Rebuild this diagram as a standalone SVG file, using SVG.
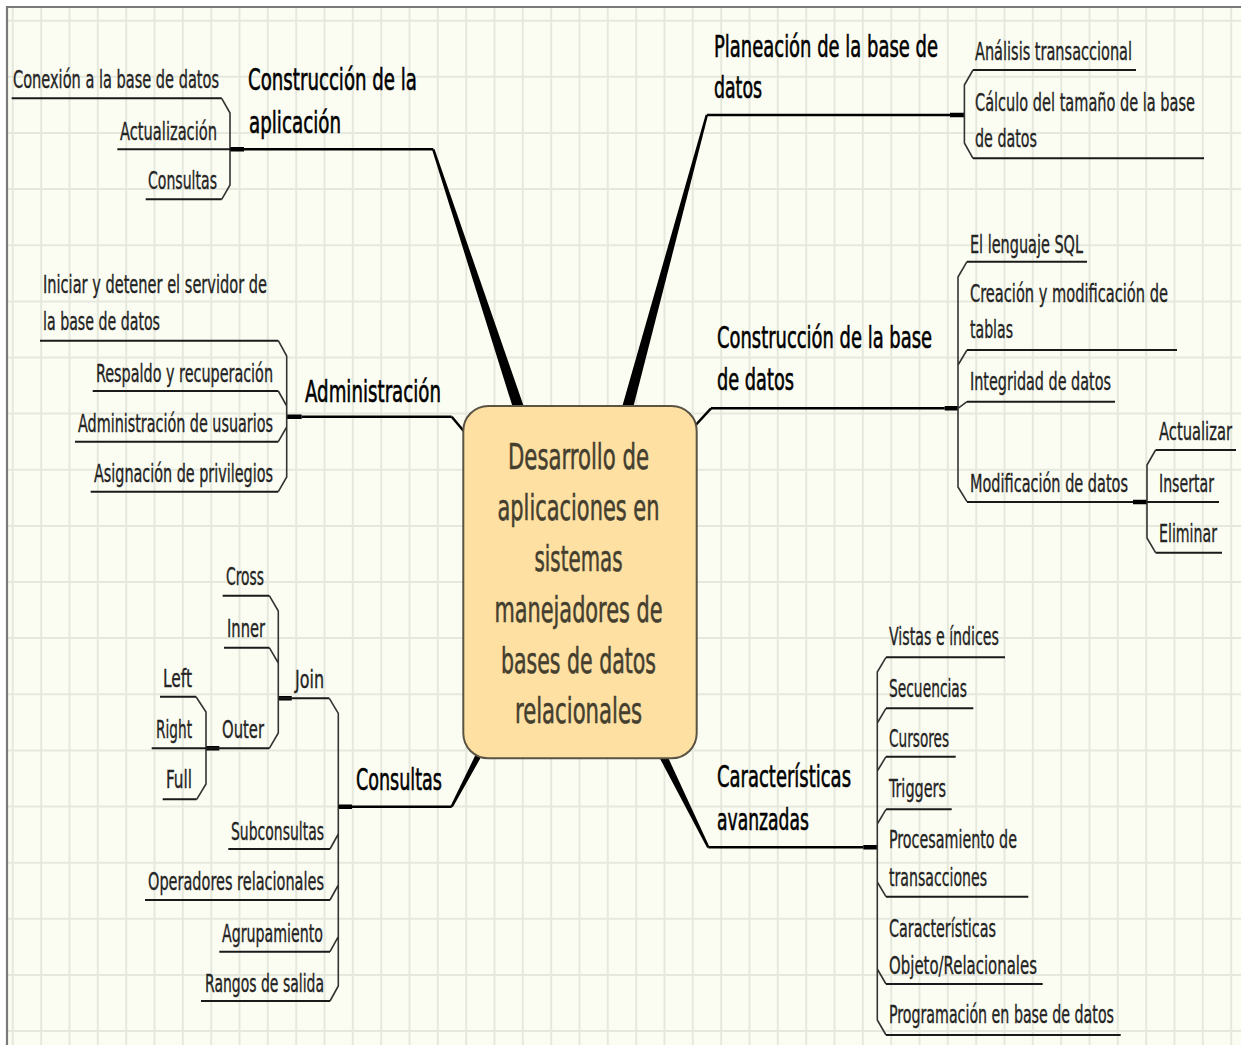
<svg xmlns="http://www.w3.org/2000/svg" width="1241" height="1045" viewBox="0 0 1241 1045">
<style>
text{font-family:"DejaVu Sans Condensed","DejaVu Sans","Liberation Sans",sans-serif;font-stretch:condensed}
.s{font-size:24px;fill:#242424;stroke:#242424;stroke-width:0.35}
.m{font-size:31px;fill:#000;stroke:#000;stroke-width:0.6}
.c{font-size:36px;fill:#443e2f;stroke:#443e2f;stroke-width:0.55;text-anchor:middle}
.ul{stroke:#1a1a1a;stroke-width:2;fill:none}
.mul{stroke:#000;stroke-width:2.5;fill:none}
.stub{stroke:#000;stroke-width:4.5;fill:none}
.br{stroke:#333;stroke-width:1.6;fill:none;stroke-linejoin:round}
.grid{stroke:#e5e9dd;stroke-width:2;fill:none}
.taper{fill:#000}
</style>
<rect x="0" y="0" width="1241" height="1045" fill="#ffffff"/>
<rect x="7" y="7" width="1234" height="1038" fill="#fcfdf2"/>
<path class="grid" d="M12.8 7V1045M41.2 7V1045M69.5 7V1045M97.8 7V1045M126.2 7V1045M154.5 7V1045M182.8 7V1045M211.2 7V1045M239.5 7V1045M267.8 7V1045M296.2 7V1045M324.5 7V1045M352.8 7V1045M381.2 7V1045M409.5 7V1045M437.8 7V1045M466.2 7V1045M494.5 7V1045M522.8 7V1045M551.2 7V1045M579.5 7V1045M607.8 7V1045M636.2 7V1045M664.5 7V1045M692.8 7V1045M721.2 7V1045M749.5 7V1045M777.8 7V1045M806.2 7V1045M834.5 7V1045M862.8 7V1045M891.2 7V1045M919.5 7V1045M947.8 7V1045M976.2 7V1045M1004.5 7V1045M1032.8 7V1045M1061.2 7V1045M1089.5 7V1045M1117.8 7V1045M1146.2 7V1045M1174.5 7V1045M1202.8 7V1045M1231.2 7V1045M7 20.7H1241M7 76.8H1241M7 133H1241M7 189.1H1241M7 245.2H1241M7 301.4H1241M7 357.5H1241M7 413.6H1241M7 469.7H1241M7 525.9H1241M7 582H1241M7 638.1H1241M7 694.3H1241M7 750.4H1241M7 806.5H1241M7 862.7H1241M7 918.8H1241M7 974.9H1241M7 1031H1241"/>
<path d="M7 1045V7H1241" stroke="#7a7a7a" stroke-width="2.2" fill="none"/>

<g id="connectors">
  <polygon class="taper" points="432.1,149.7 434.5,148.9 525.8,412.3 515.4,415.7"/>
  <polygon class="taper" points="705.6,114.7 708.0,115.3 631.1,415.4 620.5,412.6"/>
  <polygon class="taper" points="450.6,806.1 452.8,807.3 482.5,754.4 477.1,751.6"/>
  <polygon class="taper" points="707.2,847.9 709.4,846.7 665.9,752.8 658.8,756.4"/>
  <path class="mul" d="M451.7 416.7L467 435"/>
  <path class="mul" d="M711 408.3L693 428"/>
  <path class="stub" d="M230 149.3H244M950 115H964.4M286.7 416.7H301.7M338.3 806.7H352M278.3 698.3H291.7M206 748.3H219.3M944.7 408.3H958M1133 502H1147M863.3 847.3H877.3"/>
  <path class="br" d="M221.7 98.3L230 113V185L221.7 199.3"/>
  <path class="br" d="M973 70L964.4 85V143L973 158.3"/>
  <path class="br" d="M278.3 340.7L286.7 356V477L278.3 491.7M278.3 391L286.7 406M278.3 441.7L286.7 427"/>
  <path class="br" d="M329.3 698.3L338.3 713.3V986L330 1001M330 849L338.3 834M330 900L338.3 885M330 951.7L338.3 936.7"/>
  <path class="br" d="M269.3 595.7L278.3 611V733L269.3 748.3M269.3 647.7L278.3 663"/>
  <path class="br" d="M196 696.7L206 712V784L196.7 799.3"/>
  <path class="br" d="M967 261.7L958 277V487L967 501.7M967 350L958 365M967 401.7L958 408.3"/>
  <path class="br" d="M1155.6 450L1147 465V538L1155.6 552.7"/>
  <path class="br" d="M886 657.3L877.3 672V1020L886 1035M886 708.3L877.3 723M886 756.7L877.3 771M886 809.3L877.3 824M886 896.7L877.3 882M886 984L877.3 969"/>
</g>

<g id="center">
  <rect x="463.3" y="406" width="233.4" height="352.3" rx="25" fill="#fde0a2" stroke="#5b5444" stroke-width="2"/>
  <text class="c" x="578.5" y="469" textLength="141" lengthAdjust="spacingAndGlyphs">Desarrollo de</text>
  <text class="c" x="578.5" y="520" textLength="162" lengthAdjust="spacingAndGlyphs">aplicaciones en</text>
  <text class="c" x="578.5" y="571" textLength="88" lengthAdjust="spacingAndGlyphs">sistemas</text>
  <text class="c" x="578.5" y="622" textLength="168" lengthAdjust="spacingAndGlyphs">manejadores de</text>
  <text class="c" x="578.5" y="673" textLength="155" lengthAdjust="spacingAndGlyphs">bases de datos</text>
  <text class="c" x="578.5" y="723" textLength="127" lengthAdjust="spacingAndGlyphs">relacionales</text>
</g>

<g id="construccion-aplicacion">
  <path class="mul" d="M230 149.3H433.3"/>
  <text class="m" x="248" y="90" textLength="169" lengthAdjust="spacingAndGlyphs">Construcción de la</text>
  <text class="m" x="249" y="133" textLength="92" lengthAdjust="spacingAndGlyphs">aplicación</text>
</g>
<g id="conexion">
  <path class="ul" d="M11.7 98.3H221.7"/>
  <text class="s" x="13" y="88" textLength="206" lengthAdjust="spacingAndGlyphs">Conexión a la base de datos</text>
</g>
<g id="actualizacion">
  <path class="ul" d="M117.3 149.3H230"/>
  <text class="s" x="120" y="140" textLength="97" lengthAdjust="spacingAndGlyphs">Actualización</text>
</g>
<g id="consultas-app">
  <path class="ul" d="M145.7 199.3H221.7"/>
  <text class="s" x="148" y="189" textLength="69" lengthAdjust="spacingAndGlyphs">Consultas</text>
</g>

<g id="planeacion">
  <path class="mul" d="M706.8 115H950"/>
  <text class="m" x="714" y="57" textLength="224" lengthAdjust="spacingAndGlyphs">Planeación de la base de</text>
  <text class="m" x="714" y="98" textLength="48" lengthAdjust="spacingAndGlyphs">datos</text>
</g>
<g id="analisis">
  <path class="ul" d="M973 70H1136"/>
  <text class="s" x="975" y="60" textLength="157" lengthAdjust="spacingAndGlyphs">Análisis transaccional</text>
</g>
<g id="calculo">
  <path class="ul" d="M973 158.3H1204"/>
  <text class="s" x="975" y="111" textLength="220" lengthAdjust="spacingAndGlyphs">Cálculo del tamaño de la base</text>
  <text class="s" x="975" y="147" textLength="62" lengthAdjust="spacingAndGlyphs">de datos</text>
</g>

<g id="administracion">
  <path class="mul" d="M301.7 416.7H451.7"/>
  <text class="m" x="305" y="402" textLength="136" lengthAdjust="spacingAndGlyphs">Administración</text>
</g>
<g id="iniciar">
  <path class="ul" d="M40 340.7H278.3"/>
  <text class="s" x="43" y="293" textLength="224" lengthAdjust="spacingAndGlyphs">Iniciar y detener el servidor de</text>
  <text class="s" x="43" y="330" textLength="117" lengthAdjust="spacingAndGlyphs">la base de datos</text>
</g>
<g id="respaldo">
  <path class="ul" d="M92.7 391H278.3"/>
  <text class="s" x="96" y="382" textLength="177" lengthAdjust="spacingAndGlyphs">Respaldo y recuperación</text>
</g>
<g id="admin-usuarios">
  <path class="ul" d="M75 441.7H278.3"/>
  <text class="s" x="78" y="432" textLength="195" lengthAdjust="spacingAndGlyphs">Administración de usuarios</text>
</g>
<g id="asignacion">
  <path class="ul" d="M90.7 491.7H278.3"/>
  <text class="s" x="94" y="482" textLength="179" lengthAdjust="spacingAndGlyphs">Asignación de privilegios</text>
</g>

<g id="consultas">
  <path class="mul" d="M338.3 806.7H451.7"/>
  <text class="m" x="356" y="790" textLength="86" lengthAdjust="spacingAndGlyphs">Consultas</text>
</g>
<g id="join">
  <path class="ul" d="M278.3 698.3H329.3"/>
  <text class="s" x="295" y="688" textLength="29" lengthAdjust="spacingAndGlyphs">Join</text>
</g>
<g id="cross">
  <path class="ul" d="M222.7 595.7H269.3"/>
  <text class="s" x="226" y="585" textLength="38" lengthAdjust="spacingAndGlyphs">Cross</text>
</g>
<g id="inner">
  <path class="ul" d="M224 647.7H269.3"/>
  <text class="s" x="227" y="637" textLength="38" lengthAdjust="spacingAndGlyphs">Inner</text>
</g>
<g id="outer">
  <path class="ul" d="M206 748.3H269.3"/>
  <text class="s" x="222" y="738" textLength="42" lengthAdjust="spacingAndGlyphs">Outer</text>
</g>
<g id="left">
  <path class="ul" d="M160 696.7H196"/>
  <text class="s" x="163" y="687" textLength="29" lengthAdjust="spacingAndGlyphs">Left</text>
</g>
<g id="right">
  <path class="ul" d="M151.7 748.3H206"/>
  <text class="s" x="156" y="738" textLength="36" lengthAdjust="spacingAndGlyphs">Right</text>
</g>
<g id="full">
  <path class="ul" d="M162.7 799.3H196.7"/>
  <text class="s" x="166" y="788" textLength="26" lengthAdjust="spacingAndGlyphs">Full</text>
</g>
<g id="subconsultas">
  <path class="ul" d="M228.3 849H330"/>
  <text class="s" x="231" y="840" textLength="93" lengthAdjust="spacingAndGlyphs">Subconsultas</text>
</g>
<g id="operadores">
  <path class="ul" d="M145 900H330"/>
  <text class="s" x="148" y="890" textLength="176" lengthAdjust="spacingAndGlyphs">Operadores relacionales</text>
</g>
<g id="agrupamiento">
  <path class="ul" d="M219.3 951.7H330"/>
  <text class="s" x="222" y="942" textLength="101" lengthAdjust="spacingAndGlyphs">Agrupamiento</text>
</g>
<g id="rangos">
  <path class="ul" d="M201 1001H330"/>
  <text class="s" x="205" y="992" textLength="119" lengthAdjust="spacingAndGlyphs">Rangos de salida</text>
</g>

<g id="construccion-bd">
  <path class="mul" d="M711 408.3H944.7"/>
  <text class="m" x="717" y="348" textLength="215" lengthAdjust="spacingAndGlyphs">Construcción de la base</text>
  <text class="m" x="717" y="390" textLength="77" lengthAdjust="spacingAndGlyphs">de datos</text>
</g>
<g id="sql">
  <path class="ul" d="M967 261.7H1087"/>
  <text class="s" x="970" y="253" textLength="113" lengthAdjust="spacingAndGlyphs">El lenguaje SQL</text>
</g>
<g id="creacion">
  <path class="ul" d="M967 350H1177"/>
  <text class="s" x="970" y="302" textLength="198" lengthAdjust="spacingAndGlyphs">Creación y modificación de</text>
  <text class="s" x="970" y="338" textLength="43" lengthAdjust="spacingAndGlyphs">tablas</text>
</g>
<g id="integridad">
  <path class="ul" d="M967 401.7H1115"/>
  <text class="s" x="970" y="390" textLength="141" lengthAdjust="spacingAndGlyphs">Integridad de datos</text>
</g>
<g id="modificacion">
  <path class="ul" d="M967 502H1133"/>
  <text class="s" x="970" y="492" textLength="158" lengthAdjust="spacingAndGlyphs">Modificación de datos</text>
</g>
<g id="actualizar">
  <path class="ul" d="M1155.6 450H1236"/>
  <text class="s" x="1159" y="440" textLength="73" lengthAdjust="spacingAndGlyphs">Actualizar</text>
</g>
<g id="insertar">
  <path class="ul" d="M1147 502H1219"/>
  <text class="s" x="1159" y="492" textLength="55" lengthAdjust="spacingAndGlyphs">Insertar</text>
</g>
<g id="eliminar">
  <path class="ul" d="M1155.6 552.7H1222"/>
  <text class="s" x="1159" y="542" textLength="58" lengthAdjust="spacingAndGlyphs">Eliminar</text>
</g>

<g id="caracteristicas">
  <path class="mul" d="M708.3 847.3H863.3"/>
  <text class="m" x="717" y="787" textLength="134" lengthAdjust="spacingAndGlyphs">Características</text>
  <text class="m" x="717" y="830" textLength="92" lengthAdjust="spacingAndGlyphs">avanzadas</text>
</g>
<g id="vistas">
  <path class="ul" d="M886 657.3H1005"/>
  <text class="s" x="889" y="645" textLength="110" lengthAdjust="spacingAndGlyphs">Vistas e índices</text>
</g>
<g id="secuencias">
  <path class="ul" d="M886 708.3H973.3"/>
  <text class="s" x="889" y="697" textLength="78" lengthAdjust="spacingAndGlyphs">Secuencias</text>
</g>
<g id="cursores">
  <path class="ul" d="M886 756.7H955.7"/>
  <text class="s" x="889" y="747" textLength="60" lengthAdjust="spacingAndGlyphs">Cursores</text>
</g>
<g id="triggers">
  <path class="ul" d="M886 809.3H951.7"/>
  <text class="s" x="889" y="797" textLength="57" lengthAdjust="spacingAndGlyphs">Triggers</text>
</g>
<g id="procesamiento">
  <path class="ul" d="M886 896.7H1028.3"/>
  <text class="s" x="889" y="848" textLength="128" lengthAdjust="spacingAndGlyphs">Procesamiento de</text>
  <text class="s" x="889" y="886" textLength="98" lengthAdjust="spacingAndGlyphs">transacciones</text>
</g>
<g id="objeto">
  <path class="ul" d="M886 984H1042.7"/>
  <text class="s" x="889" y="937" textLength="107" lengthAdjust="spacingAndGlyphs">Características</text>
  <text class="s" x="889" y="974" textLength="148" lengthAdjust="spacingAndGlyphs">Objeto/Relacionales</text>
</g>
<g id="programacion">
  <path class="ul" d="M886 1035H1120.7"/>
  <text class="s" x="889" y="1023" textLength="225" lengthAdjust="spacingAndGlyphs">Programación en base de datos</text>
</g>
</svg>
